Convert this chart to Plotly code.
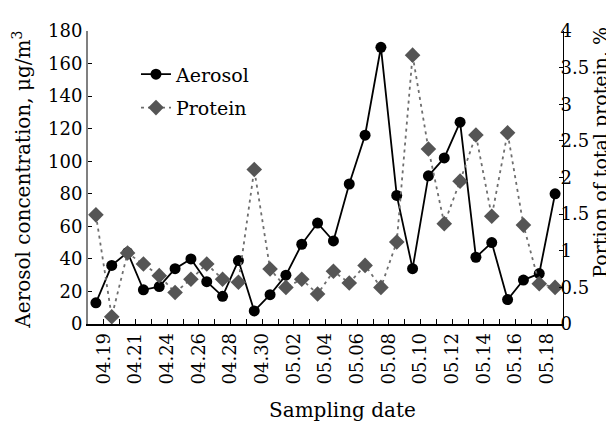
import plotly.graph_objects as go

dates = ["04.19", "04.20", "04.21", "04.23", "04.24", "04.25", "04.26", "04.27",
         "04.28", "04.29", "04.30", "05.01", "05.02", "05.03", "05.04", "05.05",
         "05.06", "05.07", "05.08", "05.09", "05.10", "05.11", "05.12", "05.13",
         "05.14", "05.15", "05.16", "05.17", "05.18", "05.19"]
aerosol = [13, 36, 44, 21, 23, 34, 40, 26, 17, 39, 8, 18, 30, 49, 62, 51,
           86, 116, 170, 79, 34, 91, 102, 124, 41, 50, 15, 27, 31, 80]
protein = [1.49, 0.10, 0.97, 0.82, 0.66, 0.43, 0.61, 0.82, 0.61, 0.57, 2.11, 0.75,
           0.50, 0.61, 0.41, 0.72, 0.56, 0.80, 0.50, 1.12, 3.67, 2.39, 1.37, 1.95,
           2.58, 1.47, 2.61, 1.35, 0.55, 0.50]

idx = list(range(len(dates)))
label_pos = [i + 0.5 for i in idx if i % 2 == 0]
label_txt = [d for i, d in enumerate(dates) if i % 2 == 0]

FONT = "DejaVu Serif"

fig = go.Figure()
fig.add_trace(go.Scatter(
    x=idx, y=aerosol, name="Aerosol", mode="lines+markers",
    line=dict(color="#000000", width=1.8),
    marker=dict(symbol="circle", size=11, color="#000000"),
    cliponaxis=False, legend="legend"))
fig.add_trace(go.Scatter(
    x=idx, y=protein, name="Protein", mode="lines+markers", yaxis="y2",
    line=dict(color="#6e6e6e", width=1.8, dash="3px,4px"),
    marker=dict(symbol="diamond", size=12, color="#555555"),
    cliponaxis=False, legend="legend2"))

fig.update_layout(
    width=614, height=423,
    margin=dict(l=80, r=59, t=19, b=107),
    paper_bgcolor="white", plot_bgcolor="white",
    font=dict(family=FONT, size=18, color="#000000"),
    showlegend=True,
    xaxis=dict(range=[-0.5, 29.5], tickmode="array", tickvals=label_pos, ticktext=label_txt,
               tickangle=-90, ticks="inside", ticklen=5, tickcolor="#000", tickwidth=1,
               minor=dict(tick0=0.5, dtick=1, ticks="inside", ticklen=5,
                          tickcolor="#000", tickwidth=1, showgrid=False),
               showline=True, linecolor="#000", linewidth=1.5, showgrid=False,
               zeroline=False, tickfont=dict(size=18)),
    yaxis=dict(range=[0, 180], dtick=20, ticks="inside", ticklen=4, tickcolor="#000",
               showline=True, linecolor="#808080", linewidth=2, showgrid=False,
               zeroline=False, tickfont=dict(size=18)),
    yaxis2=dict(range=[0, 4], dtick=0.5, overlaying="y", side="right", ticks="inside",
                ticklen=4, tickcolor="#000", showline=True, linecolor="#000", linewidth=1,
                showgrid=False, zeroline=False, tickfont=dict(size=18),
                ticklabelstandoff=-7),
    legend=dict(x=0.101, y=0.852, xanchor="left", yanchor="middle",
                bgcolor="rgba(0,0,0,0)", font=dict(size=19)),
    legend2=dict(x=0.101, y=0.738, xanchor="left", yanchor="middle",
                 bgcolor="rgba(0,0,0,0)", font=dict(size=19)),
    annotations=[
        dict(text="Aerosol concentration, μg/m<sup>3</sup>", textangle=-90,
             xref="paper", yref="paper", x=-0.1396, y=0.4916,
             xanchor="center", yanchor="middle", showarrow=False, font=dict(size=20)),
        dict(text="Portion of total protein, %", textangle=-90,
             xref="paper", yref="paper", x=1.078, y=0.585,
             xanchor="center", yanchor="middle", showarrow=False, font=dict(size=19)),
        dict(text="Sampling date",
             xref="paper", yref="paper", x=0.5348, y=-0.293,
             xanchor="center", yanchor="middle", showarrow=False, font=dict(size=20)),
    ],
)

fig.write_html("out.html")
